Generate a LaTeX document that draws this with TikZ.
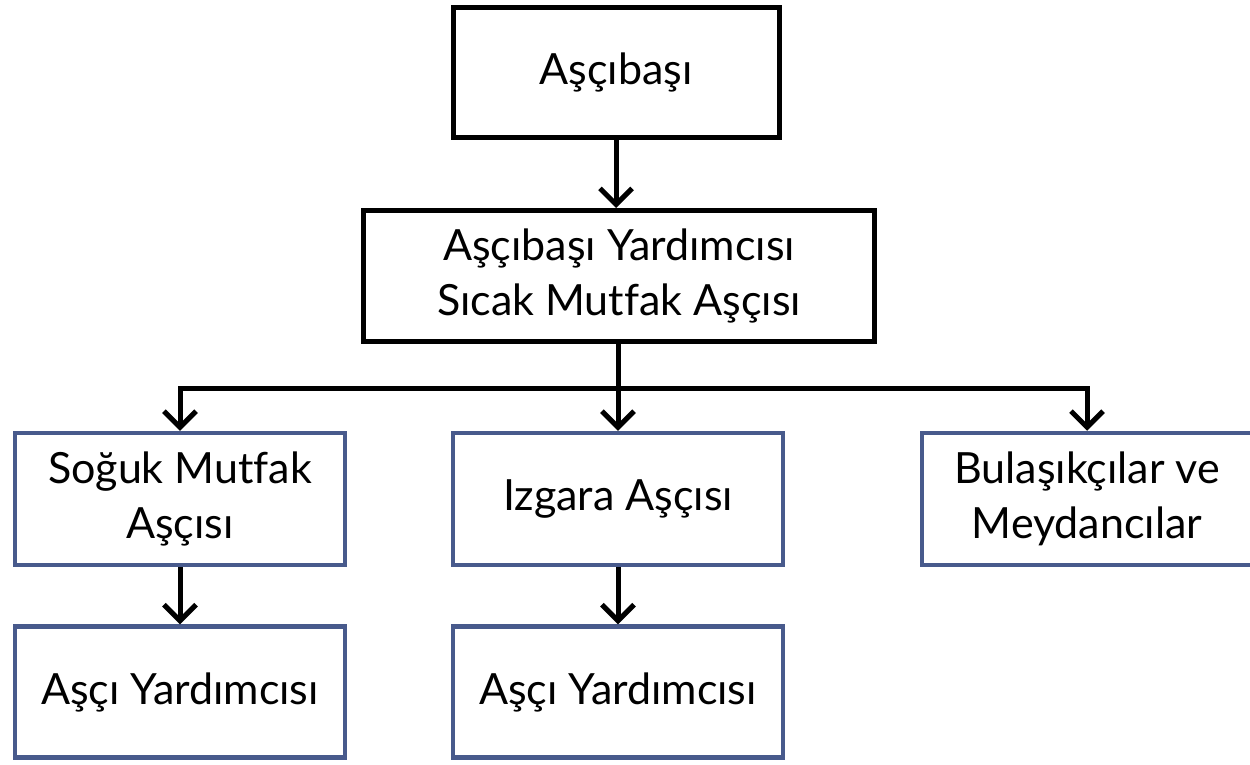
\documentclass[tikz,border=0pt]{standalone}
\usepackage{fontspec}
\setmainfont{Lato}[Ligatures=NoCommon]
\usetikzlibrary{arrows.meta}
\definecolor{boxblue}{RGB}{72,90,140}
\tikzset{
  blk/.style={draw=black, line width=5pt, fill=white, align=center, inner sep=0pt},
  blu/.style={draw=boxblue, line width=4.5pt, fill=white, align=center, inner sep=0pt},
  conn/.style={draw=black, line width=5pt, line join=miter},
  arr/.style={conn, -{Straight Barb[length=16pt, width=32pt, line width=5pt]}},
  txt/.style={font=\fontsize{43}{55}\selectfont}
}
\begin{document}
\begin{tikzpicture}[x=1pt, y=-1pt]
\useasboundingbox (0,0) rectangle (1250,764);
\begin{scope}
\clip (0,0) rectangle (1250,764);
\node[blk, txt, minimum width=326pt, minimum height=130pt] (a) at (616,72) {Aşçıbaşı};
\node[blk, txt, minimum width=511pt, minimum height=131pt] (b) at (619,276) {Aşçıbaşı Yardımcısı\\Sıcak Mutfak Aşçısı};
\node[blu, txt, minimum width=330pt, minimum height=132pt] (c1) at (180,499) {Soğuk Mutfak\\Aşçısı};
\node[blu, txt, minimum width=330pt, minimum height=132pt] (c2) at (618,499) {Izgara Aşçısı};
\node[blu, txt, minimum width=330pt, minimum height=132pt] (c3) at (1087,499) {Bulaşıkçılar ve\\Meydancılar};
\node[blu, txt, minimum width=330pt, minimum height=131pt] (d1) at (180,692) {Aşçı Yardımcısı};
\node[blu, txt, minimum width=330pt, minimum height=131pt] (d2) at (618,692) {Aşçı Yardımcısı};
\coordinate (j) at (618,388);
\draw[arr] (a.south) -- (a.south |- b.north);
\draw[conn] (b.south -| j) -- (j);
\draw[arr] (j) -| (c1.north);
\draw[arr] (j) -- (c2.north);
\draw[arr] (j) -| (c3.north);
\draw[arr] (c1.south) -- (d1.north);
\draw[arr] (c2.south) -- (d2.north);
\end{scope}
\end{tikzpicture}
\end{document}
